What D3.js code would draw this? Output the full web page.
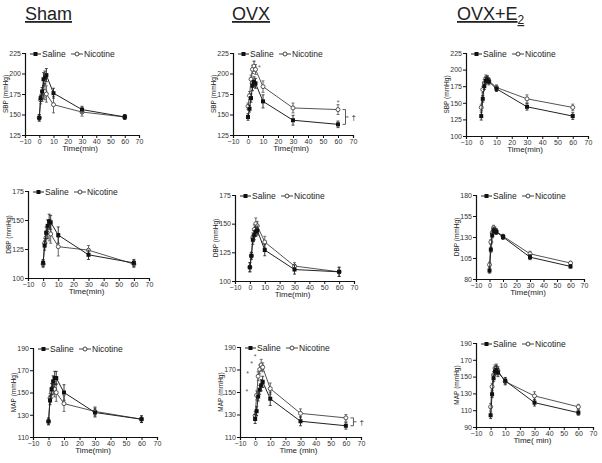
<!DOCTYPE html>
<html><head><meta charset="utf-8">
<script src="https://cdn.jsdelivr.net/npm/d3@7"></script>
<style>body{margin:0;background:#fff}svg{font-family:"Liberation Sans",Arial,sans-serif}</style>
</head><body><svg id="c" width="602" height="463"></svg>
<script>
const times = [0, 1, 2, 3, 4, 5, 10, 30, 60];
const xTicks = [-10, 0, 10, 20, 30, 40, 50, 60, 70];
const groupTitles = ["Sham", "OVX", "OVX+E"];
const seriesNames = ["Saline", "Nicotine"];
const yLabels = ["SBP (mmHg)", "DBP (mmHg)", "MAP (mmHg)"];

const shamSBPSaline   = [146, 170, 178, 193, 195, 198, 176, 156, 147];
const shamSBPNicotine = [146, 168, 172, 177, 178, 175, 162, 153, 147];
const ovxSBPSaline    = [147, 157, 170, 185, 190, 188, 166, 143, 138];
const ovxSBPNicotine  = [160, 173, 193, 205, 209, 205, 184, 158, 156];
const e2SBPSaline     = [130, 156, 175, 183, 185, 182, 171, 144, 130];
const e2SBPNicotine   = [143, 170, 180, 187, 186, 183, 173, 156, 143];

const shamDBPSaline   = [113, 128, 139, 145, 149, 148, 137, 120, 113];
const shamDBPNicotine = [112, 130, 135, 140, 140, 138, 127, 124, 112];
const ovxDBPSaline    = [112, 122, 136, 140, 143, 144, 127, 110, 108];
const ovxDBPNicotine  = [112, 122, 138, 145, 150, 148, 134, 113, 108];
const e2DBPSaline     = [90, 115, 132, 138, 137, 136, 130, 106, 95];
const e2DBPNicotine   = [97, 124, 135, 141, 139, 137, 131, 110, 99];

const shamMAPSaline   = [124, 143, 153, 160, 163, 163, 150, 132, 126];
const shamMAPNicotine = [124, 145, 150, 154, 153, 150, 140, 133, 126];
const ovxMAPSaline    = [126, 133, 146, 152, 156, 159, 144, 124, 120];
const ovxMAPNicotine  = [129, 147, 164, 170, 174, 172, 153, 131, 127];
const e2MAPSaline     = [104, 129, 148, 156, 158, 155, 145, 119, 107];
const e2MAPNicotine   = [114, 138, 152, 160, 160, 157, 144, 127, 114];

// SEM estimates
const shamSBPSalineErr = [4,4,5,8,8,8,6,4,3],  shamSBPNicErr = [4,5,6,8,10,10,10,5,3];
const ovxSBPSalineErr  = [4,4,5,6,6,6,8,6,4],  ovxSBPNicErr  = [4,5,5,5,6,6,7,6,6];
const e2SBPSalineErr   = [6,5,5,5,5,5,4,5,5],  e2SBPNicErr   = [5,5,5,5,5,4,4,6,5];
const shamDBPSalineErr = [3,4,5,5,6,6,7,4,3],  shamDBPNicErr = [3,4,5,6,8,8,8,4,3];
const ovxDBPSalineErr  = [4,3,4,4,4,4,5,4,4],  ovxDBPNicErr  = [4,3,4,4,5,4,5,3,4];
const e2DBPSalineErr   = [3,3,3,3,3,3,3,3,2],  e2DBPNicErr   = [3,3,3,3,3,3,2,3,2];
const shamMAPSalineErr = [3,4,5,5,6,6,7,4,3],  shamMAPNicErr = [3,4,5,6,7,8,7,4,3];
const ovxMAPSalineErr  = [4,4,4,4,5,5,6,4,3],  ovxMAPNicErr  = [4,4,4,4,5,4,5,4,3];
const e2MAPSalineErr   = [4,4,4,4,5,5,4,4,3],  e2MAPNicErr   = [4,4,4,4,5,5,4,5,3];

const yTicksSBP1 = [125, 150, 175, 200, 225];
const yTicksSBP3 = [100, 125, 150, 175, 200, 225];
const yTicksDBP1 = [100, 125, 150, 175];
const yTicksDBP3 = [80, 105, 130, 155, 180];
const yTicksMAP1 = [110, 130, 150, 170, 190];
const yTicksMAP3 = [90, 110, 130, 150, 170, 190];

const ovxSBPStars = [[4, 214], [7.5, 208], [60, 165]];
const ovxMAPStars = [[-5.5, 151], [-5, 167], [-2.3, 176], [0, 182]];

const svg = d3.select("#c");
const ink = "#222";

// titles
const titleX = [25, 232, 457];
groupTitles.forEach((t, i) => {
  const tx = svg.append("text").attr("x", titleX[i]).attr("y", 20)
    .attr("font-size", 18).attr("fill", ink).attr("text-decoration", "underline").text(t);
  if (i === 2) tx.append("tspan").attr("font-size", 12).attr("dy", 4).text("2");
});

const panels = [
  {L:25, R:139, T:53, B:135, dom:[125,225], ticks:yTicksSBP1, yl:0, s:shamSBPSaline, n:shamSBPNicotine, se:shamSBPSalineErr, ne:shamSBPNicErr, xl:"Time(min)"},
  {L:233, R:353, T:53, B:135, dom:[125,225], ticks:yTicksSBP1, yl:0, s:ovxSBPSaline, n:ovxSBPNicotine, se:ovxSBPSalineErr, ne:ovxSBPNicErr, xl:"Time(min)", stars:ovxSBPStars, bracket:[65, 156, 138]},
  {L:466, R:588, T:53, B:136, dom:[100,225], ticks:yTicksSBP3, yl:0, s:e2SBPSaline, n:e2SBPNicotine, se:e2SBPSalineErr, ne:e2SBPNicErr, xl:"Time(min)"},
  {L:28, R:149, T:191, B:278, dom:[100,175], ticks:yTicksDBP1, yl:1, s:shamDBPSaline, n:shamDBPNicotine, se:shamDBPSalineErr, ne:shamDBPNicErr, xl:"Time(min)"},
  {L:235, R:354, T:195, B:281, dom:[100,175], ticks:yTicksDBP1, yl:1, s:ovxDBPSaline, n:ovxDBPNicotine, se:ovxDBPSalineErr, ne:ovxDBPNicErr, xl:"Time(min)"},
  {L:476, R:584, T:195, B:279, dom:[80,180], ticks:yTicksDBP3, yl:1, s:e2DBPSaline, n:e2DBPNicotine, se:e2DBPSalineErr, ne:e2DBPNicErr, xl:"Time(min)"},
  {L:33, R:157, T:348, B:437, dom:[110,190], ticks:yTicksMAP1, yl:2, s:shamMAPSaline, n:shamMAPNicotine, se:shamMAPSalineErr, ne:shamMAPNicErr, xl:"Time(min)"},
  {L:240, R:361, T:347, B:437, dom:[110,190], ticks:yTicksMAP1, yl:2, s:ovxMAPSaline, n:ovxMAPNicotine, se:ovxMAPSalineErr, ne:ovxMAPNicErr, xl:"Time (min)", stars:ovxMAPStars, bracket:[65, 127, 120]},
  {L:476, R:593, T:343, B:427, dom:[90,190], ticks:yTicksMAP3, yl:2, s:e2MAPSaline, n:e2MAPNicotine, se:e2MAPSalineErr, ne:e2MAPNicErr, xl:"Time( min)"}
];

panels.forEach(p => {
  const g = svg.append("g");
  const x = d3.scaleLinear().domain([-10, 70]).range([p.L, p.R]);
  const y = d3.scaleLinear().domain(p.dom).range([p.B, p.T]);

  const xa = g.append("g").attr("transform", `translate(0,${p.B})`)
    .call(d3.axisBottom(x).tickValues(xTicks).tickSize(3).tickPadding(1).tickFormat(d3.format("d")));
  const ya = g.append("g").attr("transform", `translate(${p.L},0)`)
    .call(d3.axisLeft(y).tickValues(p.ticks).tickSize(3).tickPadding(1));
  [xa, ya].forEach(a => {
    a.select(".domain").attr("stroke", "#111").attr("stroke-width", 1.2);
    a.selectAll(".tick line").attr("stroke", "#111");
    a.selectAll("text").attr("font-size", 7).attr("fill", "#333").attr("font-family", "Liberation Sans, Arial");
  });

  g.append("text").attr("x", (p.L + p.R) / 2 - 2).attr("y", p.B + 16).attr("text-anchor", "middle")
    .attr("font-size", 8).attr("fill", ink).text(p.xl);
  g.append("text").attr("transform", `translate(${p.L - 17},${(p.T + p.B) / 2}) rotate(-90)`)
    .attr("text-anchor", "middle").attr("font-size", 6.5).attr("fill", ink).text(yLabels[p.yl]);

  const line = d3.line().x((d, i) => x(times[i])).y(d => y(d));
  const series = [
    {v: p.n, e: p.ne, filled: false},
    {v: p.s, e: p.se, filled: true}
  ];
  series.forEach(sr => {
    g.append("path").datum(sr.v).attr("d", line).attr("fill", "none")
      .attr("stroke", sr.filled ? "#222" : "#555").attr("stroke-width", 1);
    sr.v.forEach((d, i) => {
      const cx = x(times[i]);
      const e = sr.e[i];
      g.append("line").attr("x1", cx).attr("x2", cx).attr("y1", y(d - e)).attr("y2", y(d + e))
        .attr("stroke", sr.filled ? "#222" : "#555").attr("stroke-width", 0.9);
      [d - e, d + e].forEach(v => g.append("line").attr("x1", cx - 1.5).attr("x2", cx + 1.5)
        .attr("y1", y(v)).attr("y2", y(v)).attr("stroke", sr.filled ? "#222" : "#555").attr("stroke-width", 0.8));
      if (sr.filled) g.append("rect").attr("x", cx - 2).attr("y", y(d) - 2).attr("width", 4).attr("height", 4).attr("fill", "#111");
      else g.append("circle").attr("cx", cx).attr("cy", y(d)).attr("r", 2).attr("fill", "#fff").attr("stroke", "#444").attr("stroke-width", 0.9);
    });
  });

  // legend
  const ly = p.T + 1;
  const lg = g.append("g");
  lg.append("line").attr("x1", p.L + 5).attr("x2", p.L + 16).attr("y1", ly).attr("y2", ly).attr("stroke", "#222");
  lg.append("rect").attr("x", p.L + 8.5).attr("y", ly - 2).attr("width", 4).attr("height", 4).attr("fill", "#111");
  lg.append("text").attr("x", p.L + 17).attr("y", ly + 3).attr("font-size", 8.5).attr("fill", ink).text(seriesNames[0]);
  lg.append("line").attr("x1", p.L + 46).attr("x2", p.L + 58).attr("y1", ly).attr("y2", ly).attr("stroke", "#444");
  lg.append("circle").attr("cx", p.L + 52).attr("cy", ly).attr("r", 2).attr("fill", "#fff").attr("stroke", "#444");
  lg.append("text").attr("x", p.L + 59).attr("y", ly + 3).attr("font-size", 8.5).attr("fill", ink).text(seriesNames[1]);

  if (p.stars) p.stars.forEach(s => g.append("text").attr("x", x(s[0])).attr("y", y(s[1]) + 3)
    .attr("text-anchor", "middle").attr("font-size", 7).attr("fill", "#555").text("*"));
  if (p.bracket) {
    const [bt, v1, v2] = p.bracket;
    const bx = x(bt);
    g.append("path").attr("d", `M${bx - 3},${y(v1)} L${bx},${y(v1)} L${bx},${y(v2)} L${bx - 3},${y(v2)} M${bx},${(y(v1) + y(v2)) / 2} L${bx + 3},${(y(v1) + y(v2)) / 2}`)
      .attr("fill", "none").attr("stroke", "#333").attr("stroke-width", 0.8);
    g.append("text").attr("x", bx + 6).attr("y", (y(v1) + y(v2)) / 2 + 3).attr("font-size", 8).attr("fill", ink).text("†");
  }
});
</script></body></html>
